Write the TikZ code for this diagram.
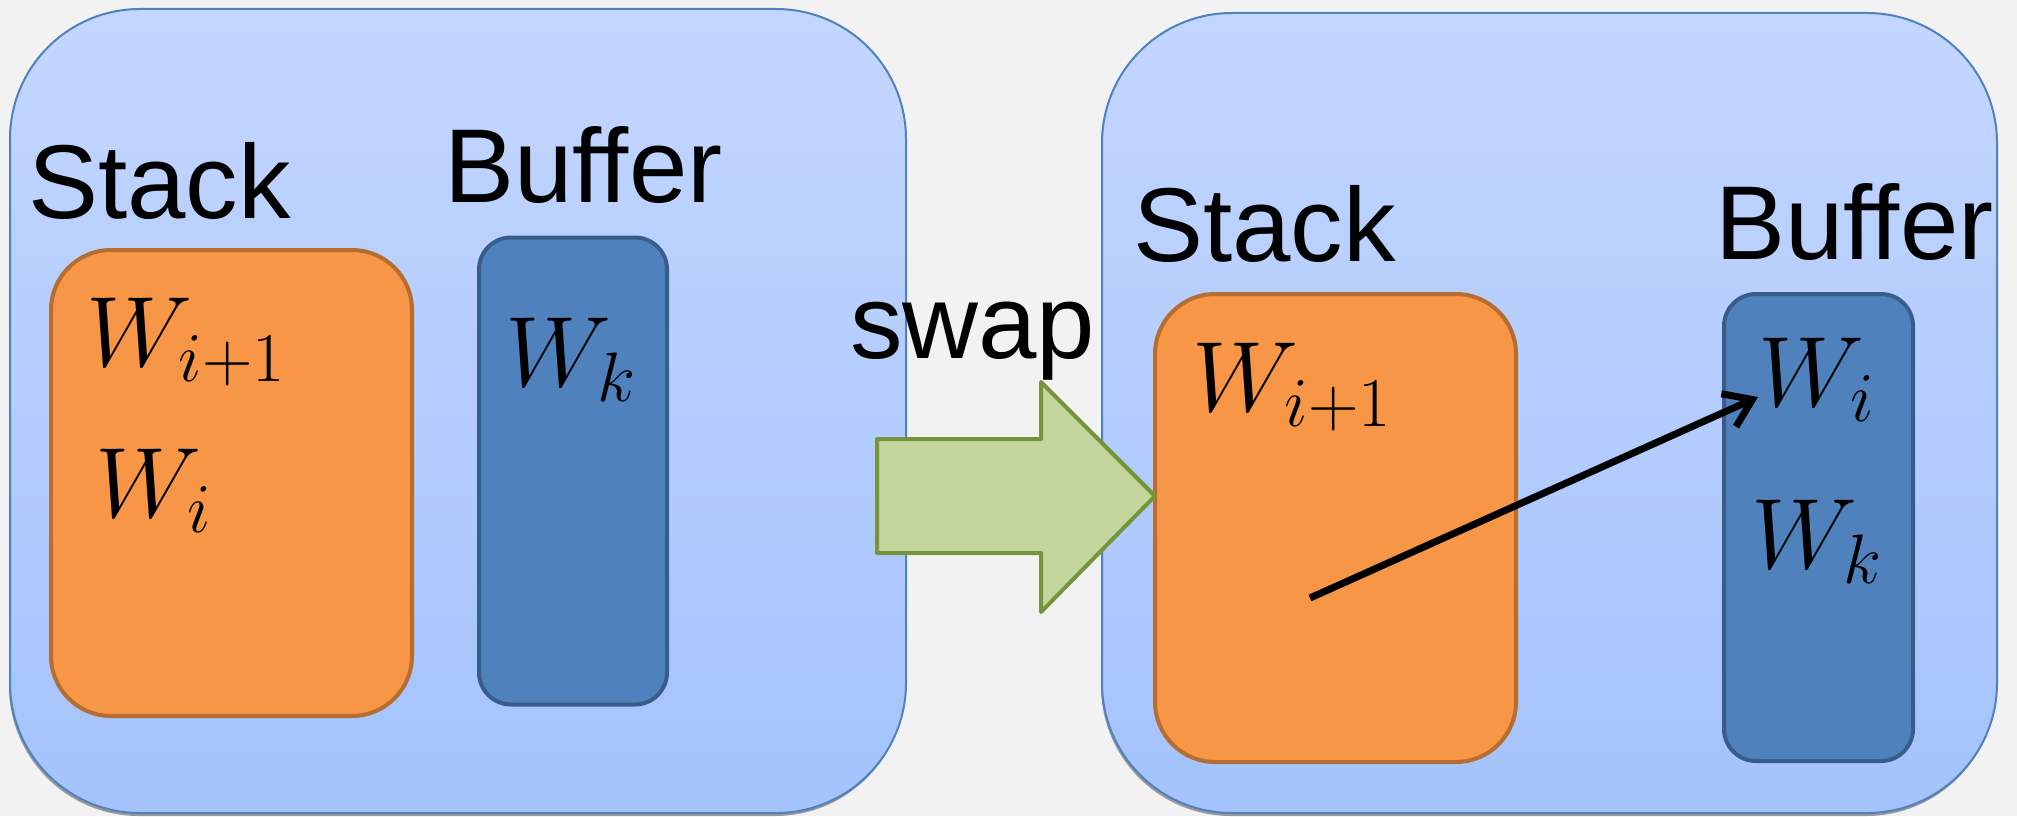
\RequirePackage{fix-cm}
\documentclass[tikz,border=0pt]{standalone}
\usepackage{fontspec}
\setmainfont{Liberation Sans}
\usetikzlibrary{arrows.meta,shadows}
\definecolor{paper}{HTML}{F2F2F2}
\definecolor{skytop}{HTML}{C3D6FE}
\definecolor{skybot}{HTML}{A4C3FC}
\definecolor{skyline}{HTML}{4F81BD}
\definecolor{stackfill}{HTML}{F79646}
\definecolor{stackline}{HTML}{B66D31}
\definecolor{buffill}{HTML}{4F81BD}
\definecolor{bufline}{HTML}{385D8A}
\definecolor{swapfill}{HTML}{C3D69B}
\definecolor{swapline}{HTML}{77933C}

\begin{document}
\begin{tikzpicture}[x=1pt,y=-1pt,
  config/.style={rectangle,draw=skyline,line width=2pt,top color=skytop,bottom color=skybot,
    rounded corners=130pt,drop shadow={shadow xshift=-1pt,shadow yshift=-3pt,fill=black!40,opacity=1}},
  stackbox/.style={rectangle,draw=stackline,fill=stackfill,line width=4pt,rounded corners=60pt,
    minimum width=361pt,minimum height=466pt},
  bufbox/.style={rectangle,draw=bufline,fill=buffill,line width=4pt,rounded corners=32pt,
    minimum width=188pt,minimum height=467pt},
  lbl/.style={anchor=base west,inner sep=0pt,font=\fontsize{105}{120}\selectfont},
  word/.style={anchor=base west,inner sep=0pt,font=\fontsize{100}{120}\selectfont},
  swapshape/.style={draw=swapline,fill=swapfill,line width=4pt,line join=round},
  move/.style={line width=7pt,-{Straight Barb[length=26pt,width=36pt]},
    preaction={draw=skyline!60!gray,opacity=.5,transform canvas={shift={(-2pt,3pt)}}}}]
   \fill[paper] (0,0) rectangle (2017,816);
   \useasboundingbox (0,0) rectangle (2017,816);

   % configuration before the transition
   \node[config,minimum width=896pt,minimum height=804pt] (cfg1) at (458,411) {};
   \node[stackbox] (stk1) at (231.5,483) {};
   \node[bufbox] (buf1) at (573,471) {};
   \node[lbl] (stk1lbl) at (28,218) {Stack};
   \node[lbl] (buf1lbl) at (444,202) {Buffer};
   \node[word] (wip1) at (86,366) {$W_{i+1}$};
   \node[word] (wi1) at (95,517) {$W_i$};
   \node[word] (wk1) at (505,386) {$W_k$};

   % configuration after the transition
   \node[config,minimum width=895pt,minimum height=800pt] (cfg2) at (1549.5,413) {};
   \node[stackbox,minimum height=468pt] (stk2) at (1335.5,528) {};
   \node[bufbox,minimum width=189pt] (buf2) at (1818.5,527.5) {};
   \node[lbl] (stk2lbl) at (1133,261) {Stack};
   \node[lbl] (buf2lbl) at (1715,259) {Buffer};
   \node[word] (wip2) at (1192,411) {$W_{i+1}$};
   \node[word] (wi2) at (1758,406) {$W_i$};
   \node[word] (wk2) at (1751,568) {$W_k$};

   % the transition
   \draw[swapshape] (877,439) -- (1041,439) -- (1041,382) -- (1155,496)
      -- (1041,612) -- (1041,553) -- (877,553) -- cycle;
   \node[lbl] (swaplbl) at (850,358) {swap};

   \coordinate (pop) at (1310,598);
   \draw[move] (pop) -- ([yshift=9pt]wi2.base west);
\end{tikzpicture}
\end{document}
